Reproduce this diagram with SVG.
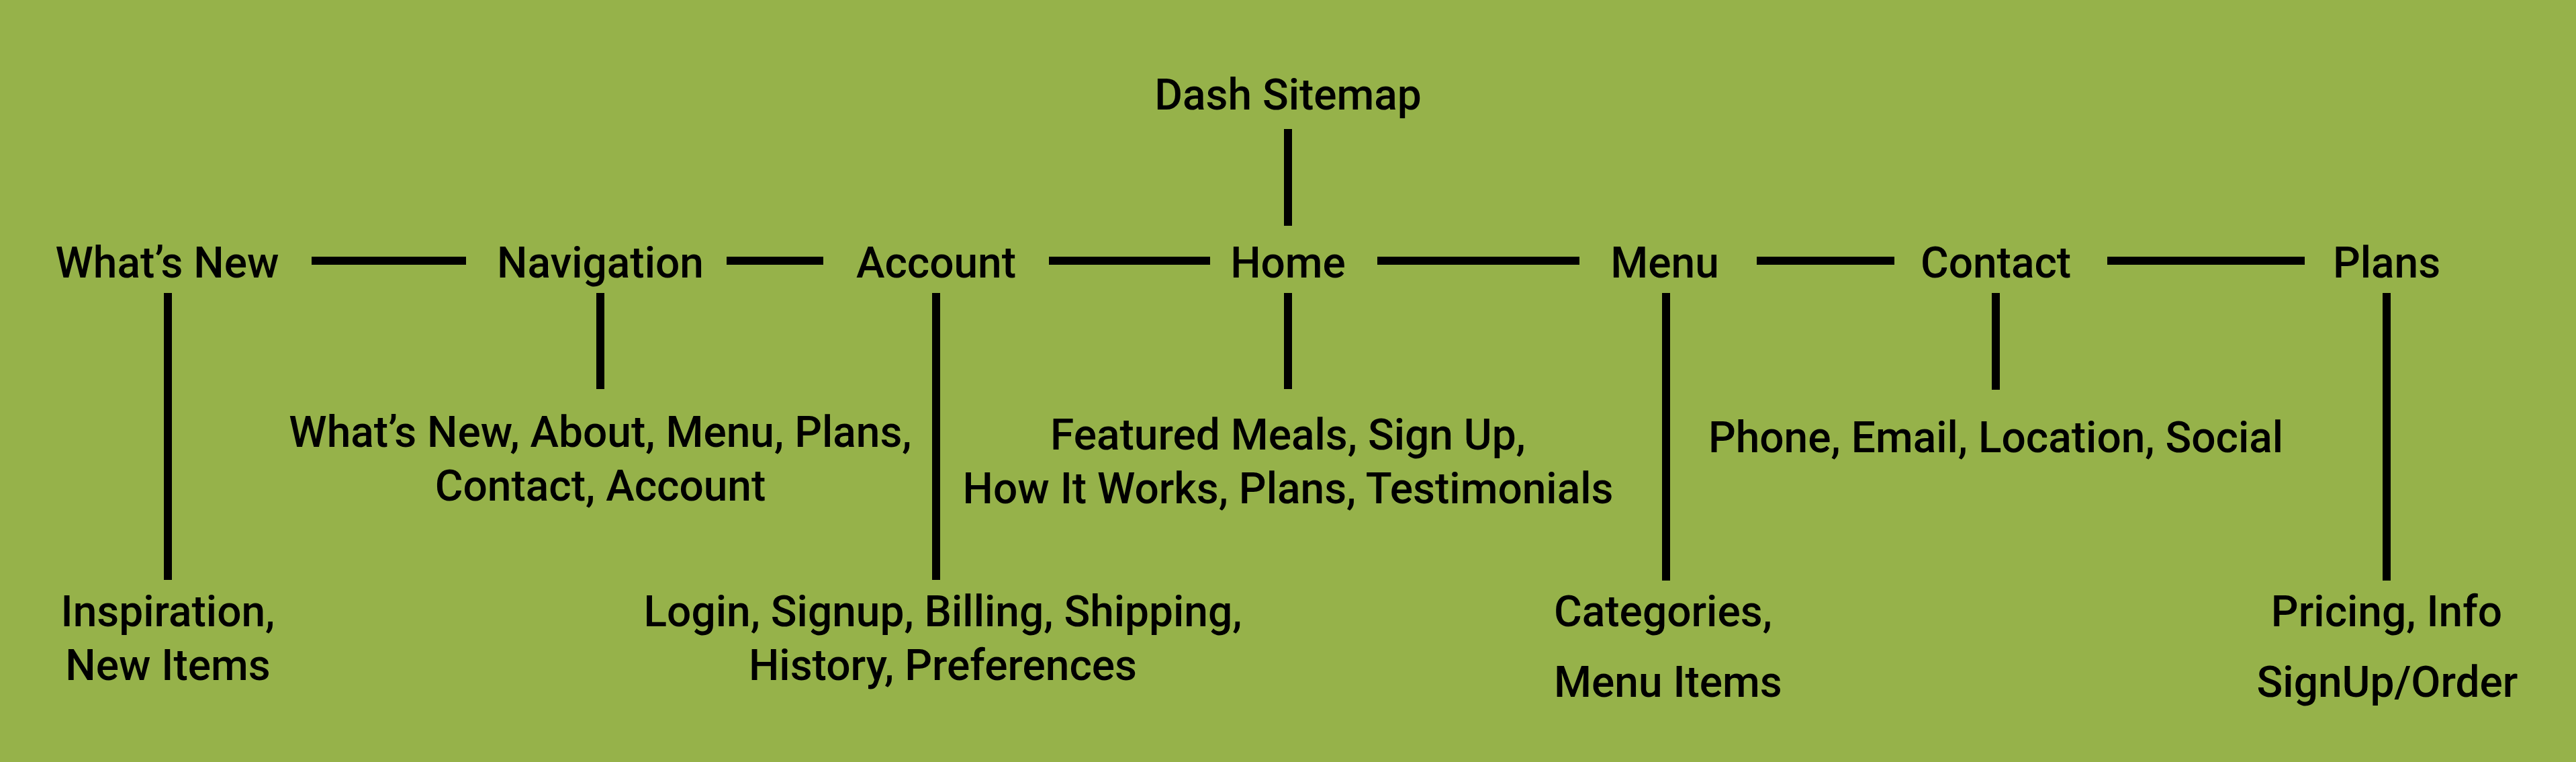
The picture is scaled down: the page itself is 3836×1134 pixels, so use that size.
<svg xmlns="http://www.w3.org/2000/svg" width="3836" height="1134" viewBox="0 0 3836 1134">
<style>
.t{font-family:Roboto,"Liberation Sans",sans-serif;font-size:64px;font-weight:500;fill:#000;text-anchor:middle}
.l{text-anchor:start}
.c{stroke:#000;stroke-width:12;fill:none;stroke-linecap:butt}
</style>
<rect width="3836" height="1134" fill="#96b24a"/>
<g id="connectors" class="c">
<line x1="1918" y1="192" x2="1918" y2="336"/>
<line x1="464" y1="388" x2="694" y2="388"/>
<line x1="1082" y1="388" x2="1226" y2="388"/>
<line x1="1562" y1="388" x2="1802" y2="388"/>
<line x1="2051" y1="388" x2="2352" y2="388"/>
<line x1="2616" y1="388" x2="2821" y2="388"/>
<line x1="3138" y1="388" x2="3432" y2="388"/>
<line x1="250" y1="436" x2="250" y2="863"/>
<line x1="894" y1="436" x2="894" y2="579"/>
<line x1="1394" y1="436" x2="1394" y2="863"/>
<line x1="1918" y1="436" x2="1918" y2="579"/>
<line x1="2481" y1="436" x2="2481" y2="864"/>
<line x1="2972" y1="436" x2="2972" y2="580"/>
<line x1="3554" y1="436" x2="3554" y2="864"/>
</g>
<g id="dash"><text class="t" x="1918" y="163">Dash Sitemap</text></g>
<g id="whatsnew"><text class="t" x="249" y="413">What’s New</text></g>
<g id="navigation"><text class="t" x="894" y="413">Navigation</text></g>
<g id="account"><text class="t" x="1394" y="413">Account</text></g>
<g id="home"><text class="t" x="1918" y="413">Home</text></g>
<g id="menu"><text class="t" x="2479" y="413">Menu</text></g>
<g id="contact"><text class="t" x="2972" y="413">Contact</text></g>
<g id="plans"><text class="t" x="3554" y="413">Plans</text></g>
<g id="nav-items"><text class="t" x="894" y="665">What’s New, About, Menu, Plans,</text><text class="t" x="894" y="745">Contact, Account</text></g>
<g id="home-items"><text class="t" x="1918" y="669">Featured Meals, Sign Up,</text><text class="t" x="1918" y="749">How It Works, Plans, Testimonials</text></g>
<g id="contact-items"><text class="t" x="2972" y="673">Phone, Email, Location, Social</text></g>
<g id="whatsnew-items"><text class="t" x="250" y="932">Inspiration,</text><text class="t" x="250" y="1012">New Items</text></g>
<g id="account-items"><text class="t" x="1404" y="932">Login, Signup, Billing, Shipping,</text><text class="t" x="1404" y="1012">History, Preferences</text></g>
<g id="menu-items"><text class="t l" x="2314" y="932">Categories,</text><text class="t l" x="2314" y="1037">Menu Items</text></g>
<g id="plans-items"><text class="t" x="3554" y="932">Pricing, Info</text><text class="t" x="3555" y="1037">SignUp/Order</text></g>
</svg>
